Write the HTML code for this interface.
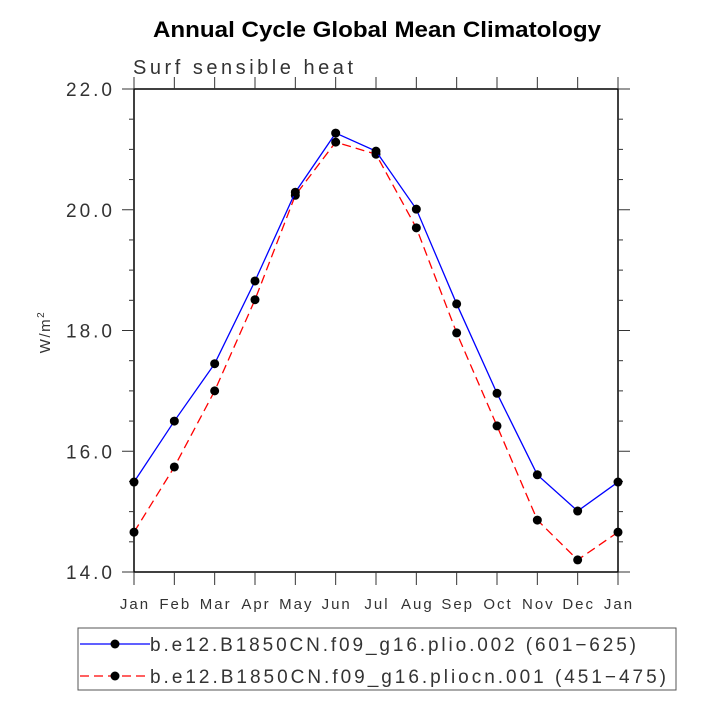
<!DOCTYPE html>
<html><head><meta charset="utf-8"><style>
body{margin:0;background:#fff}
svg text{font-family:"Liberation Sans",sans-serif}
</style></head><body>
<svg id="chart" width="713" height="713" xmlns="http://www.w3.org/2000/svg">
<text x="153" y="37" font-size="22" font-weight="bold" textLength="448" lengthAdjust="spacingAndGlyphs">Annual Cycle Global Mean Climatology</text>
<text x="133" y="74" font-size="20" fill="#333" textLength="220" lengthAdjust="spacing">Surf sensible heat</text>
<text transform="translate(50,332) rotate(-90)" text-anchor="middle" font-size="15" fill="#333" letter-spacing="1.5">W/m<tspan dy="-6" font-size="10">2</tspan></text>
<g id="axes"></g>
<g id="series"></g>
<rect x="78" y="628" width="598" height="62" fill="none" stroke="#555" stroke-width="1"/>
<g>
<line x1="80" y1="644" x2="150" y2="644" stroke="#00f" stroke-width="1.3"/>
<circle cx="115" cy="644" r="4.5" fill="#000"/>
<text x="150" y="651" font-size="19" fill="#333" textLength="486" lengthAdjust="spacing">b.e12.B1850CN.f09_g16.plio.002 (601−625)</text>
</g>
<g>
<line x1="80" y1="676" x2="150" y2="676" stroke="#f00" stroke-width="1.3" stroke-dasharray="9,5"/>
<circle cx="115" cy="676" r="4.5" fill="#000"/>
<text x="150" y="683" font-size="19" fill="#333" textLength="516" lengthAdjust="spacing">b.e12.B1850CN.f09_g16.pliocn.001 (451−475)</text>
</g>
</svg>
<script>
const months=["Jan","Feb","Mar","Apr","May","Jun","Jul","Aug","Sep","Oct","Nov","Dec","Jan"];
const plioValues=[15.49,16.50,17.45,18.82,20.29,21.27,20.97,20.01,18.44,16.96,15.61,15.01,15.49];
const pliocnValues=[14.66,15.74,17.00,18.51,20.24,21.12,20.92,19.70,17.96,16.42,14.86,14.20,14.66];
const yTicks=[14,16,18,20,22];
const yTickLabels=["14.0","16.0","18.0","20.0","22.0"];
const L=134,R=618,T=89,B=572,yMin=14,yMax=22;
const NS="http://www.w3.org/2000/svg";
function xs(i){return L+i*(R-L)/(months.length-1);}
function ys(v){return B-(v-yMin)/(yMax-yMin)*(B-T);}
function mk(tag,attrs,parent){const e=document.createElementNS(NS,tag);for(const k in attrs)e.setAttribute(k,attrs[k]);parent.appendChild(e);return e;}
const ax=document.getElementById('axes');
const frame=mk('rect',{x:L,y:T,width:R-L,height:B-T,fill:'none',stroke:'#000','stroke-width':1.5},ax);


months.forEach((m,i)=>{
  const x=xs(i);
  mk('line',{x1:x,y1:B,x2:x,y2:B+13,stroke:'#333','stroke-width':1},ax);
  mk('line',{x1:x,y1:T,x2:x,y2:T-12,stroke:'#333','stroke-width':1},ax);
  const t=mk('text',{x:x+1,y:B+37,'text-anchor':'middle','font-size':15,fill:'#333','letter-spacing':2},ax);
  t.textContent=m;
  
  
});
for(let v=yMin;v<=yMax+1e-9;v+=0.5){
  const y=ys(v),maj=Math.abs(v-Math.round(v/2)*2)<1e-9;
  const len=maj?12:5;
  mk('line',{x1:L,y1:y,x2:L-len,y2:y,stroke:'#333','stroke-width':1},ax);
  mk('line',{x1:R,y1:y,x2:R+len,y2:y,stroke:'#333','stroke-width':1},ax);
}
yTicks.forEach((v,i)=>{
  const t=mk('text',{x:66,y:ys(v)+7,'font-size':19,fill:'#333',textLength:46,lengthAdjust:'spacing'},ax);
  t.textContent=yTickLabels[i];
  
  
});
const sg=document.getElementById('series');
function draw(vals,color,dash,name){
  const pts=vals.map((v,i)=>xs(i)+','+ys(v)).join(' ');
  const a={points:pts,fill:'none',stroke:color,'stroke-width':1.3};
  if(dash)a['stroke-dasharray']=dash;
  const pl=mk('polyline',a,sg);
  
  
  vals.forEach((v,i)=>{
    const c=mk('circle',{cx:xs(i),cy:ys(v),r:4.5,fill:'#000'},sg);
    
    
  });
}
draw(pliocnValues,'#f00','9,5','pliocn');
draw(plioValues,'#00f',null,'plio');
</script>
</body></html>
